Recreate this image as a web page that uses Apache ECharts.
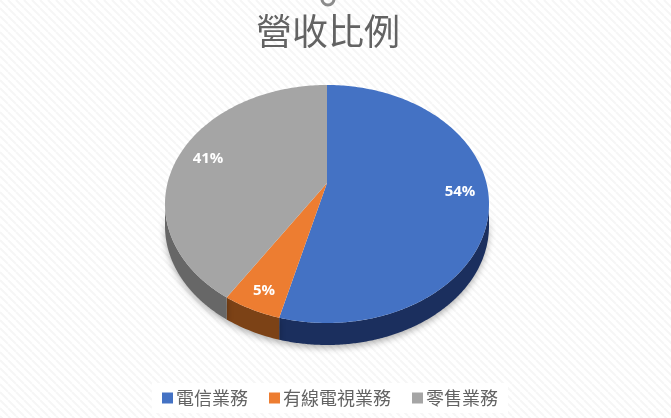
<!DOCTYPE html>
<html><head><meta charset="utf-8">
<style>html,body{margin:0;padding:0;background:#fff}#c{width:671px;height:418px}</style>
<script src="https://cdn.jsdelivr.net/npm/echarts@6/dist/echarts.min.js"></script>
</head><body><div id="c"></div>
<script>
const categories = ['電信業務','有線電視業務','零售業務'];
const values = [54, 5, 41];
const topColors = ['#4472C4','#ED7D31','#A5A5A5'];
const wallColors = ['#1B2F5E','#7C4216','#676767'];

const CX=327, CY=204, RX=162, RY=119, DEPTH=22, TILT=0.176;
const FONT='"Noto Sans CJK TC","Noto Sans",sans-serif';
const LABEL_SHIFT=[[133,-12.5],[-63,87],[-119,-45.5]];

const tile=document.createElement('canvas');tile.width=tile.height=8;
const g=tile.getContext('2d');g.fillStyle='#ffffff';g.fillRect(0,0,8,8);
g.strokeStyle='#f6f6f6';g.lineWidth=2;
[-8,0,8,16].forEach(o=>{g.beginPath();g.moveTo(o,0);g.lineTo(o+8,8);g.stroke();});

const total=values.reduce((a,b)=>a+b,0);
/* perspective view of the pie: a circle seen tilted projects to an ellipse whose
   centre sits below the projected pie centre, so front slices look wider. */
function project(u,v,dy){
  const w=1-TILT*v;
  return [CX+RX*Math.sqrt(1-TILT*TILT)*u/w, CY+RY*(v-TILT)/w+(dy||0)];
}
function pt(a,dy){return project(Math.sin(a),-Math.cos(a),dy);}
const WALL_FROM=Math.acos(-TILT), WALL_TO=2*Math.PI-WALL_FROM;

let acc=0;
const series=categories.map((name,i)=>{
  const start=acc; acc+=values[i];
  return {
    type:'custom',name,coordinateSystem:'none',silent:true,
    itemStyle:{color:topColors[i]},
    data:[[start,values[i]]],
    renderItem(params,api){
      const a0=api.value(0)/total*2*Math.PI, a1=a0+api.value(1)/total*2*Math.PI;
      const N=Math.max(8,Math.round((a1-a0)*180/Math.PI));
      const arc=[];
      for(let k=0;k<=N;k++)arc.push(a0+(a1-a0)*k/N);
      const top=[project(0,0)].concat(arc.map(a=>pt(a)));
      const children=[];
      const lo=Math.max(a0,WALL_FROM), hi=Math.min(a1,WALL_TO);
      if(hi>lo){
        const w=[];
        for(let k=0;k<=N;k++)w.push(lo+(hi-lo)*k/N);
        const wall=w.map(a=>pt(a)).concat(w.slice().reverse().map(a=>pt(a,DEPTH)));
        children.push({type:'polygon',shape:{points:wall},
          style:{fill:wallColors[i],shadowBlur:6,shadowColor:'rgba(0,0,0,0.3)',shadowOffsetY:3}});
      }
      children.push({type:'polygon',shape:{points:top},style:{fill:topColors[i]}});
      return {type:'group',children};
    }
  };
});
/* percentage labels go on top of every slice */
series.push({
  type:'custom',coordinateSystem:'none',silent:true,
  data:values.map((v,i)=>[i,v]),
  renderItem(params,api){
    const i=api.value(0);
    return {type:'text',x:CX+LABEL_SHIFT[i][0],y:CY+LABEL_SHIFT[i][1],
      style:{text:Math.round(api.value(1)/total*100)+'%',fill:'#fff',
        font:'bold 15px "Open Sans","Noto Sans",sans-serif',align:'center',verticalAlign:'middle'}};
  }
});

const chart=echarts.init(document.getElementById('c'),null,{renderer:'canvas'});
chart.setOption({
  animation:false,
  backgroundColor:{image:tile,repeat:'repeat'},
  title:{text:'營收比例',left:328,top:13,textAlign:'center',padding:0,
    textStyle:{color:'#636363',fontSize:36,fontWeight:'normal',fontFamily:FONT}},
  legend:{data:categories,left:152,top:383,padding:[6,10,6,10],backgroundColor:'#ffffff',
    itemWidth:11,itemHeight:11,itemGap:21,icon:'rect',
    textStyle:{color:'#636363',fontSize:18,fontFamily:FONT,padding:[0,0,0,-2]}},
  graphic:[{type:'arc',shape:{cx:328,cy:-1,r:6,startAngle:0,endAngle:Math.PI},
    style:{stroke:'#8c8c8c',lineWidth:3,fill:null},z:5}],
  series
});
</script></body></html>
